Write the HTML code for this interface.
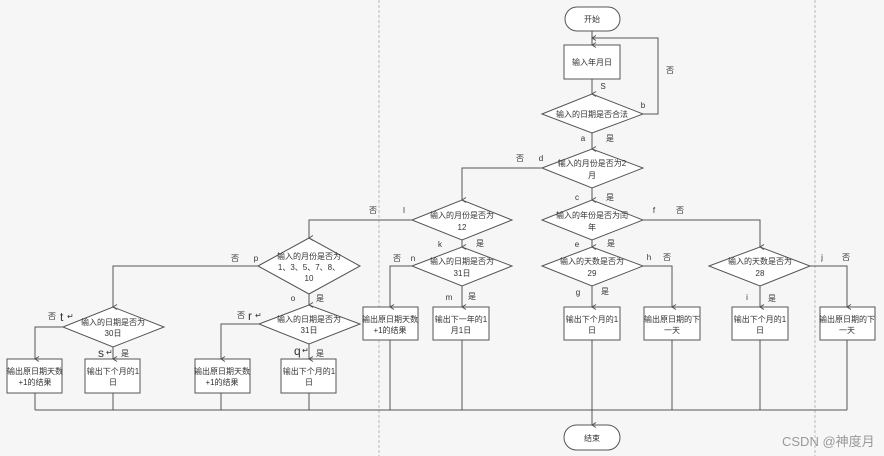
<!DOCTYPE html>
<html><head><meta charset="utf-8"><style>
html,body{margin:0;padding:0;background:#f6f6f6;}
svg{display:block;font-family:"Liberation Sans","Noto Sans CJK SC",sans-serif;}
</style></head><body>
<svg width="884" height="456" viewBox="0 0 884 456" xmlns="http://www.w3.org/2000/svg">
<defs><marker id="a" markerWidth="6" markerHeight="6" refX="3" refY="5" orient="auto" markerUnits="userSpaceOnUse"><path d="M0.5,1 L3,5 L5.5,1" fill="none" stroke="#555" stroke-width="1"/></marker>
<marker id="b" markerWidth="6" markerHeight="6" refX="5" refY="3" orient="auto-start-reverse" markerUnits="userSpaceOnUse"><path d="M1,0.5 L5,3 L1,5.5" fill="none" stroke="#555" stroke-width="1"/></marker></defs>
<rect width="884" height="456" fill="#f6f6f6"/>
<line x1="379" y1="0" x2="379" y2="456" stroke="#bbb" stroke-dasharray="3,2"/>
<line x1="815" y1="0" x2="815" y2="456" stroke="#bbb" stroke-dasharray="3,2"/>
<g fill="#fff" stroke="#555" stroke-width="1">
<rect x="565" y="7" width="55" height="24" rx="12"/>
<rect x="564" y="45" width="56" height="34"/>
<polygon points="542,114 592,94 643,114 592,133"/>
<polygon points="542,168 592,149 643,168 592,188"/>
<polygon points="542,220 592,200 643,220 592,240"/>
<polygon points="412,220 462,200 512,220 462,240"/>
<polygon points="412,266 462,247 512,266 462,286"/>
<polygon points="542,266 592,247 643,266 592,286"/>
<polygon points="709,266 760,247 810,266 760,286"/>
<polygon points="258,266 309,238 360,266 309,294"/>
<polygon points="259,324 309,305 360,324 309,344"/>
<polygon points="63,327 113,307 164,327 113,347"/>
<rect x="7" y="359" width="55" height="34"/><rect x="85" y="359" width="55" height="34"/>
<rect x="195" y="359" width="55" height="34"/><rect x="281" y="359" width="55" height="34"/>
<rect x="363" y="307" width="55" height="33"/><rect x="433" y="307" width="56" height="33"/>
<rect x="564" y="307" width="56" height="33"/><rect x="644" y="307" width="56" height="33"/>
<rect x="732" y="307" width="56" height="33"/><rect x="820" y="307" width="55" height="33"/>
<rect x="564" y="425" width="56" height="25" rx="12.5"/>
</g>
<g fill="none" stroke="#555" stroke-width="1">
<path d="M592,31 V45" marker-end="url(#a)"/>
<path d="M592,79 V94" marker-end="url(#a)"/>
<path d="M643,114 H658 V38 H592" marker-end="url(#b)"/>
<path d="M592,133 V149" marker-end="url(#a)"/>
<path d="M592,188 V200" marker-end="url(#a)"/>
<path d="M592,240 V247" marker-end="url(#a)"/>
<path d="M592,286 V307" marker-end="url(#a)"/>
<path d="M542,168 H462 V200" marker-end="url(#a)"/>
<path d="M462,240 V247" marker-end="url(#a)"/>
<path d="M462,286 V307" marker-end="url(#a)"/>
<path d="M412,220 H309 V238" marker-end="url(#a)"/>
<path d="M412,266 H390 V307" marker-end="url(#a)"/>
<path d="M258,266 H113 V307" marker-end="url(#a)"/>
<path d="M309,294 V305" marker-end="url(#a)"/>
<path d="M259,324 H221 V359" marker-end="url(#a)"/>
<path d="M309,344 V359" marker-end="url(#a)"/>
<path d="M63,327 H35 V359" marker-end="url(#a)"/>
<path d="M113,347 V359" marker-end="url(#a)"/>
<path d="M643,220 H760 V247" marker-end="url(#a)"/>
<path d="M643,266 H672 V307" marker-end="url(#a)"/>
<path d="M760,286 V307" marker-end="url(#a)"/>
<path d="M810,266 H847 V307" marker-end="url(#a)"/>
<path d="M35,393 V410 M113,393 V410 M221,393 V410 M309,393 V410 M390,340 V410 M462,340 V410 M672,340 V410 M760,340 V410 M847,340 V410 M35,410 H847"/>
<path d="M592,340 V425" marker-end="url(#a)"/>
</g>
<g font-size="8" fill="#333" text-anchor="middle">
<text x="592" y="22">开始</text>
<text x="592" y="65">输入年月日</text>
<text x="592" y="117">输入的日期是否合法</text>
<text x="592" y="166">输入的月份是否为2</text><text x="592" y="178">月</text>
<text x="592" y="218">输入的年份是否为闰</text><text x="592" y="230">年</text>
<text x="462" y="218">输入的月份是否为</text><text x="462" y="230">12</text>
<text x="462" y="264">输入的日期是否为</text><text x="462" y="276">31日</text>
<text x="592" y="264">输入的天数是否为</text><text x="592" y="276">29</text>
<text x="760" y="264">输入的天数是否为</text><text x="760" y="276">28</text>
<text x="309" y="259">输入的月份是否为</text><text x="309" y="270">1、3、5、7、8、</text><text x="309" y="281">10</text>
<text x="309" y="322">输入的日期是否为</text><text x="309" y="333">31日</text>
<text x="113" y="325">输入的日期是否为</text><text x="113" y="336">30日</text>
<text x="35" y="374">输出原日期天数</text><text x="35" y="385">+1的结果</text>
<text x="113" y="374">输出下个月的1</text><text x="113" y="385">日</text>
<text x="222" y="374">输出原日期天数</text><text x="222" y="385">+1的结果</text>
<text x="309" y="374">输出下个月的1</text><text x="309" y="385">日</text>
<text x="390" y="322">输出原日期天数</text><text x="390" y="333">+1的结果</text>
<text x="461" y="322">输出下一年的1</text><text x="461" y="333">月1日</text>
<text x="592" y="322">输出下个月的1</text><text x="592" y="333">日</text>
<text x="672" y="322">输出原日期的下</text><text x="672" y="333">一天</text>
<text x="760" y="322">输出下个月的1</text><text x="760" y="333">日</text>
<text x="847" y="322">输出原日期的下</text><text x="847" y="333">一天</text>
<text x="592" y="441">结束</text>
<text x="603" y="89">S</text><text x="670" y="73">否</text><text x="643" y="108">b</text>
<text x="583" y="141">a</text><text x="610" y="141">是</text>
<text x="520" y="161">否</text><text x="541" y="161">d</text>
<text x="577" y="200">c</text><text x="610" y="200">是</text>
<text x="373" y="213">否</text><text x="404" y="213">l</text>
<text x="654" y="213">f</text><text x="680" y="213">否</text>
<text x="440" y="247">k</text><text x="480" y="246">是</text>
<text x="577" y="247">e</text><text x="611" y="246">是</text>
<text x="397" y="261">否</text><text x="413" y="261">n</text>
<text x="649" y="260">h</text><text x="667" y="260">否</text>
<text x="822" y="260">j</text><text x="846" y="260">否</text>
<text x="235" y="261">否</text><text x="256" y="261">p</text>
<text x="293" y="301">o</text><text x="320" y="301">是</text>
<text x="449" y="300">m</text><text x="472" y="299">是</text>
<text x="578" y="295">g</text><text x="605" y="294">是</text>
<text x="747" y="300">i</text><text x="772" y="301">是</text>
<text x="52" y="319">否</text><text x="241" y="318">否</text>
<text x="125" y="356">是</text><text x="320" y="356">是</text>
</g>
<g font-size="12" fill="#333">
<text x="60" y="321">t</text><text x="67" y="319" font-size="8">↵</text>
<text x="248" y="320">r</text><text x="255" y="318" font-size="8">↵</text>
<text x="98" y="357">s</text><text x="106" y="355" font-size="8">↵</text>
<text x="294" y="355">q</text><text x="302" y="353" font-size="8">↵</text>
</g>
<text x="782" y="446" font-size="13" fill="#999">CSDN @神度月</text>
</svg>
</body></html>
